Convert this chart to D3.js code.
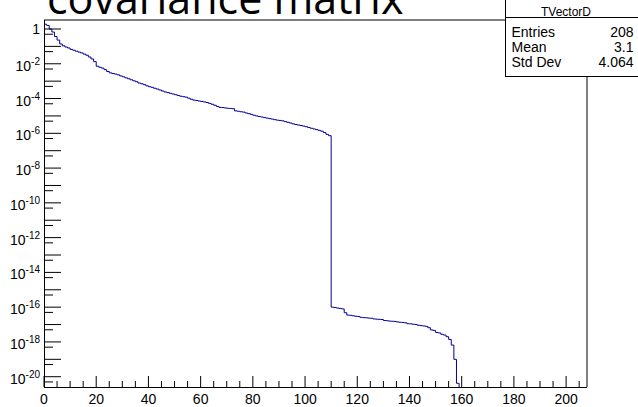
<!DOCTYPE html>
<html>
<head>
<meta charset="utf-8">
<script src="https://cdn.jsdelivr.net/npm/d3@7"></script>
<style>
  html, body { margin: 0; padding: 0; background: #ffffff; }
  svg { display: block; }
</style>
</head>
<body>
<svg id="chart" width="638" height="407"></svg>
<script>
// Eigenvalues of the covariance matrix, one per bin (TVectorD drawn as a histogram)
const eigenvalues = [
  1.88, 1.6, 1.0, 0.67, 0.37, 0.23, 0.138, 0.108, 0.092, 0.081,
  0.067, 0.060, 0.053, 0.047, 0.042, 0.036, 0.031, 0.0245, 0.019, 0.0133,
  0.0072, 0.0063, 0.0056, 0.0046, 0.0036, 0.0030, 0.00275, 0.00255, 0.0023, 0.0020,
  0.00178, 0.00155, 0.00137, 0.00120, 0.00105, 0.00093, 0.00078, 0.00071, 0.00063, 0.00054,
  0.00048, 0.00044, 0.00039, 0.00035, 0.00031, 0.00027, 0.00024, 0.00022, 0.00020, 0.000182,
  0.000166, 0.000149, 0.000136, 0.000128, 0.000120, 0.000105, 0.000091, 0.000081, 0.000077, 0.000072,
  0.000068, 0.000064, 0.000059, 0.000053, 0.000047, 0.000041, 0.000035, 0.000031, 3.02e-5, 2.88e-5,
  2.76e-5, 2.70e-5, 2.61e-5, 1.95e-5, 1.86e-5, 1.74e-5, 1.66e-5, 1.48e-5, 1.35e-5, 1.23e-5,
  1.10e-5, 1.00e-5, 9.3e-6, 8.7e-6, 8.0e-6, 7.5e-6, 7.0e-6, 6.6e-6, 6.1e-6, 5.7e-6,
  5.5e-6, 5.2e-6, 4.7e-6, 4.3e-6, 3.9e-6, 3.5e-6, 3.2e-6, 3.0e-6, 2.8e-6, 2.6e-6,
  2.4e-6, 2.15e-6, 1.95e-6, 1.78e-6, 1.62e-6, 1.48e-6, 1.32e-6, 1.10e-6, 8.7e-7, 7.3e-7,
  1.0e-16, 9.5e-17, 8.9e-17, 8.5e-17, 7.9e-17, 4.8e-17, 3.5e-17, 3.4e-17, 3.2e-17, 3.0e-17,
  2.9e-17, 2.6e-17, 2.5e-17, 2.45e-17, 2.35e-17, 2.3e-17, 2.1e-17, 2.04e-17, 2.0e-17, 1.95e-17,
  1.7e-17, 1.66e-17, 1.58e-17, 1.55e-17, 1.51e-17, 1.41e-17, 1.35e-17, 1.32e-17, 1.26e-17, 1.12e-17,
  1.10e-17, 1.05e-17, 1.0e-17, 9.1e-18, 8.7e-18, 8.3e-18, 7.9e-18, 6.6e-18, 4.9e-18, 4.6e-18,
  3.5e-18, 3.3e-18, 2.75e-18, 2.5e-18, 2.0e-18, 1.4e-18, 6.6e-19, 1.0e-19, 4.2e-21,
  0, 0, 0, 0, 0, 0, 0, 0, 0, 0,
  0, 0, 0, 0, 0, 0, 0, 0, 0, 0,
  0, 0, 0, 0, 0, 0, 0, 0, 0, 0,
  0, 0, 0, 0, 0, 0, 0, 0, 0, 0,
  0, 0, 0, 0, 0, 0, 0, 0, 0
];

const titleText = "covariance matrix";
const xTickLabels = [0, 20, 40, 60, 80, 100, 120, 140, 160, 180, 200];
const yLabelExponents = [0, -2, -4, -6, -8, -10, -12, -14, -16, -18, -20];
const statsName = "TVectorD";
const statsLabels = ["Entries", "Mean", "Std Dev"];
const statsValues = ["208", "3.1", "4.064"];

const svg = d3.select("#chart");
const frame = { left: 44, right: 587, top: 20, bottom: 387 };
const axisFont = "'Liberation Sans', Arial, Helvetica, sans-serif";

const nBins = eigenvalues.length;
const x = d3.scaleLinear().domain([0, nBins]).range([frame.left, frame.right]);
const y = d3.scaleLog()
  .domain([Math.pow(10, -20.592), Math.pow(10, 0.5177)])
  .range([frame.bottom, frame.top]);

// Title (sits partly above the canvas)
svg.append("text")
  .attr("x", 47)
  .attr("y", 13.5)
  .attr("font-family", "'Open Sans', sans-serif")
  .attr("font-size", 43)
  .attr("fill", "#000")
  .text(titleText);

// Clip for the histogram line
svg.append("defs").append("clipPath").attr("id", "frameClip")
  .append("rect")
  .attr("x", frame.left).attr("y", frame.top)
  .attr("width", frame.right - frame.left).attr("height", frame.bottom - frame.top);

// Frame top and right edges
svg.append("line")
  .attr("x1", frame.left).attr("x2", frame.right)
  .attr("y1", frame.top).attr("y2", frame.top)
  .attr("stroke", "#000").attr("stroke-width", 1);
svg.append("line")
  .attr("x1", frame.right).attr("x2", frame.right)
  .attr("y1", frame.top).attr("y2", frame.bottom)
  .attr("stroke", "#000").attr("stroke-width", 1);

// Histogram step line
const floorValue = 1e-24;
const stepPoints = eigenvalues.map((v, i) => [i, v]);
stepPoints.push([nBins, eigenvalues[nBins - 1]]);
const stepLine = d3.line()
  .x(d => x(d[0]))
  .y(d => y(Math.max(d[1], floorValue)))
  .curve(d3.curveStepAfter);
svg.append("path")
  .datum(stepPoints)
  .attr("clip-path", "url(#frameClip)")
  .attr("fill", "none")
  .attr("stroke", "#000099")
  .attr("stroke-width", 1)
  .attr("d", stepLine);

// X axis: major ticks every 20, minor every 5, pointing up
const xAxisG = svg.append("g");
xAxisG.append("line")
  .attr("x1", frame.left).attr("x2", frame.right)
  .attr("y1", frame.bottom + 0.5).attr("y2", frame.bottom + 0.5)
  .attr("stroke", "#000");
const minorX = d3.range(0, nBins + 1, 5);
xAxisG.selectAll("line.xtick").data(minorX).join("line")
  .attr("class", "xtick")
  .attr("x1", d => x(d)).attr("x2", d => x(d))
  .attr("y1", frame.bottom)
  .attr("y2", d => frame.bottom - (d % 20 === 0 ? 11 : 6))
  .attr("stroke", "#000");
xAxisG.selectAll("text").data(xTickLabels).join("text")
  .attr("x", d => x(d))
  .attr("y", 403.5)
  .attr("text-anchor", "middle")
  .attr("font-family", axisFont)
  .attr("font-size", 14)
  .attr("fill", "#000")
  .text(d => d);

// Y axis: a long tick at every decade, a short one at 5 x 10^k, pointing right
const yAxisG = svg.append("g");
yAxisG.append("line")
  .attr("x1", frame.left + 0.5).attr("x2", frame.left + 0.5)
  .attr("y1", frame.top).attr("y2", frame.bottom)
  .attr("stroke", "#000");
const decades = d3.range(0, -21, -1);
yAxisG.selectAll("line.ymajor").data(decades).join("line")
  .attr("class", "ymajor")
  .attr("x1", frame.left).attr("x2", frame.left + 17)
  .attr("y1", d => y(Math.pow(10, d))).attr("y2", d => y(Math.pow(10, d)))
  .attr("stroke", "#000");
yAxisG.selectAll("line.yminor").data(decades).join("line")
  .attr("class", "yminor")
  .attr("x1", frame.left).attr("x2", frame.left + 9)
  .attr("y1", d => y(5 * Math.pow(10, d - 1))).attr("y2", d => y(5 * Math.pow(10, d - 1)))
  .attr("stroke", "#000");
const yLabels = yAxisG.selectAll("text").data(yLabelExponents).join("text")
  .attr("x", 40)
  .attr("y", d => y(Math.pow(10, d)) + (d === 0 ? 5 : 7))
  .attr("text-anchor", "end")
  .attr("font-family", axisFont)
  .attr("font-size", 14)
  .attr("fill", "#000");
yLabels.each(function(d) {
  const t = d3.select(this);
  if (d === 0) { t.text("1"); return; }
  t.append("tspan").text("10");
  t.append("tspan").attr("dy", -6).attr("font-size", 10).text("-" + Math.abs(d));
});

// Statistics box
const stats = svg.append("g");
stats.append("rect")
  .attr("x", 505.5).attr("y", -2)
  .attr("width", 140).attr("height", 78.5)
  .attr("fill", "#fff").attr("stroke", "#000").attr("stroke-width", 1);
stats.append("line")
  .attr("x1", 505.5).attr("x2", 640)
  .attr("y1", 17.5).attr("y2", 17.5)
  .attr("stroke", "#000");
stats.append("text")
  .attr("x", 566).attr("y", 16)
  .attr("text-anchor", "middle")
  .attr("font-family", axisFont).attr("font-size", 12)
  .text(statsName);
statsLabels.forEach((label, i) => {
  const baseline = 36.5 + i * 15.3;
  stats.append("text")
    .attr("x", 511.5).attr("y", baseline)
    .attr("font-family", axisFont).attr("font-size", 14)
    .text(label);
  stats.append("text")
    .attr("x", 633.5).attr("y", baseline)
    .attr("text-anchor", "end")
    .attr("font-family", axisFont).attr("font-size", 14)
    .text(statsValues[i]);
});
</script>
</body>
</html>
